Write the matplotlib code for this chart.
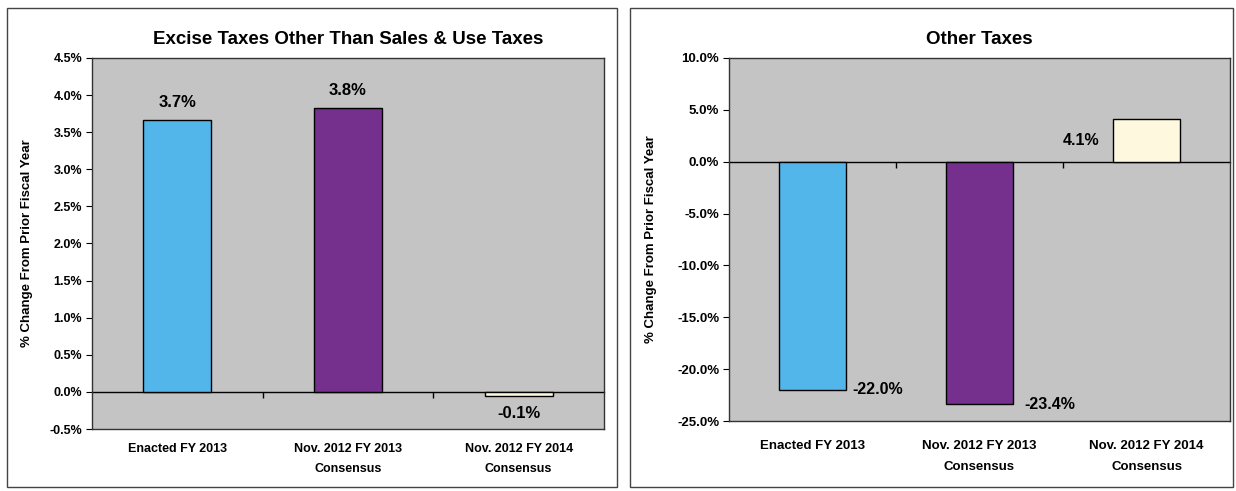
import matplotlib
matplotlib.use("Agg")
import matplotlib.pyplot as plt
from matplotlib.patches import Rectangle
from matplotlib.ticker import FuncFormatter

# Data
categories = ["Enacted FY 2013", "Nov. 2012 FY 2013\nConsensus", "Nov. 2012 FY 2014\nConsensus"]
excise_values = [3.66, 3.82, -0.06]
other_values = [-22.0, -23.4, 4.1]
bar_colors = ["#52b6ea", "#74308c", "#fdf8de"]

excise_title = "Excise Taxes Other Than Sales & Use Taxes"
other_title = "Other Taxes"
ylabel = "% Change From Prior Fiscal Year"

plt.rcParams["font.family"] = ["Liberation Sans", "DejaVu Sans"]
plt.rcParams["font.weight"] = "bold"
plt.rcParams["axes.titleweight"] = "bold"
plt.rcParams["axes.labelweight"] = "bold"

fig = plt.figure(figsize=(12.36, 4.91), dpi=100)
W, H = 1236, 491


def px(x0, y0, x1, y1):
    return [x0 / W, 1 - y1 / H, (x1 - x0) / W, (y1 - y0) / H]


# panel borders
for (x0, y0, x1, y1) in [(7, 8, 617, 487), (630, 8, 1233, 487)]:
    fig.patches.append(Rectangle((x0 / W, 1 - y1 / H), (x1 - x0) / W, (y1 - y0) / H,
                                 transform=fig.transFigure, fill=False,
                                 edgecolor="#444444", linewidth=1.0))


def draw(ax, values, ylim, step, title, label_pos, tick_size, label_size, ylabel_x,
         cat_size, cat_pad):
    x = range(len(values))
    ax.set_facecolor("#c4c4c4")
    ax.bar(x, values, width=0.4, color=bar_colors, edgecolor="black", linewidth=1.0, zorder=3)
    ax.set_xlim(-0.5, len(values) - 0.5)
    ax.set_ylim(*ylim)
    ticks = [ylim[0] + i * step for i in range(int(round((ylim[1] - ylim[0]) / step)) + 1)]
    ax.set_yticks(ticks)
    ax.yaxis.set_major_formatter(FuncFormatter(lambda v, p: f"{v:.1f}%"))
    ax.tick_params(axis="y", direction="out", length=4, labelsize=tick_size, pad=3)
    ax.set_xticks(list(x))
    ax.set_xticklabels(categories, fontsize=cat_size, linespacing=1.9)
    ax.tick_params(axis="x", length=0, pad=cat_pad)
    for s in ax.spines.values():
        s.set_color("#333333")
        s.set_linewidth(1.0)

    # zero line with category boundary ticks
    zero = (0 - ylim[0]) / (ylim[1] - ylim[0])
    sec = ax.secondary_xaxis(zero)
    sec.xaxis.set_ticks_position("bottom")
    sec.set_xticks([i + 0.5 for i in range(len(values) - 1)])
    sec.set_xticklabels([])
    sec.tick_params(direction="out", length=4, width=1, color="black")
    for s in sec.spines.values():
        s.set_color("black")
        s.set_linewidth(1.0)

    ax.set_title(title, fontsize=13.5, pad=10)
    ax.set_ylabel(ylabel, fontsize=9.5)
    ax.yaxis.set_label_coords(ylabel_x, 0.5)

    for i, v in enumerate(values):
        (dx, dy, side, ha, at_end) = label_pos[i]
        yref = v if at_end else v / 2
        xref = i + {"c": 0, "r": 0.2, "l": -0.2}[side]
        ax.annotate(f"{v:.1f}%", (xref, yref), xytext=(dx, dy), textcoords="offset points",
                    ha=ha, va="center", fontsize=label_size, zorder=4)


ax1 = fig.add_axes(px(92, 58, 604, 429))
draw(ax1, excise_values, (-0.5, 4.5), 0.5, excise_title,
     [(0, 13, "c", "center", True),
      (0, 13, "c", "center", True),
      (0, -12, "c", "center", True)],
     9, 12, -0.115, 9, 10)

ax2 = fig.add_axes(px(729, 58, 1230, 421))
draw(ax2, other_values, (-25, 10), 5, other_title,
     [(5, 0, "r", "left", True),
      (8, 0, "r", "left", True),
      (-10, 0, "l", "right", False)],
     9.5, 11.5, -0.144, 9.5, 14)

fig.savefig("out.png", dpi=100, facecolor="white")
